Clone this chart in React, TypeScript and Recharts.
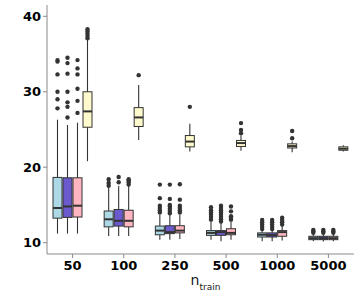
import React from "react";
import { ComposedChart, Bar, XAxis, YAxis } from "recharts";

const categories = ["50", "100", "250", "500", "1000", "5000"];
const yTicks = [10, 20, 30, 40];

// per category: [lower whisker, Q1, median, Q3, upper whisker]
const blueStats = [
  [11.2, 13.25, 14.6, 18.65, 26.3],
  [10.9, 12.1, 13.1, 14.2, 17.25],
  [10.4, 11.05, 11.6, 12.2, 13.7],
  [10.4, 10.97, 11.3, 11.6, 12.8],
  [10.2, 10.75, 11.05, 11.3, 11.6],
  [10.2, 10.4, 10.6, 10.85, 11.1],
];
const blueOutliers = [
  [27.8, 29.0, 30.0, 32.3, 34.0, 34.2],
  [17.55, 17.9, 18.4],
  [14.0, 14.3, 14.6, 14.9, 15.9, 17.7],
  [13.05, 13.4, 13.7, 14.0, 14.3, 14.7],
  [11.8, 12.1, 12.4, 12.7, 13.0],
  [11.3, 11.5, 11.7],
];

const purpleStats = [
  [11.2, 13.35, 14.8, 18.6, 25.6],
  [10.9, 12.2, 12.9, 14.4, 17.5],
  [10.4, 11.2, 11.4, 12.25, 13.7],
  [10.2, 10.97, 11.4, 11.6, 12.6],
  [10.2, 10.75, 11.0, 11.3, 11.6],
  [10.15, 10.4, 10.6, 10.85, 11.1],
];
const purpleOutliers = [
  [26.6, 28.0, 28.6, 30.0, 32.4, 33.8, 34.5],
  [18.0, 18.7],
  [13.9, 14.2, 14.5, 14.8, 15.0, 15.8, 17.7],
  [12.8, 13.1, 13.4, 13.7, 14.0, 14.3, 14.6, 14.9],
  [11.8, 12.1, 12.4, 12.7, 13.0],
  [11.3, 11.5, 11.7],
];

const pinkStats = [
  [11.2, 13.4, 14.9, 18.6, 25.9],
  [10.9, 12.1, 12.9, 14.3, 17.5],
  [10.5, 11.3, 11.6, 12.25, 13.7],
  [10.4, 11.05, 11.3, 11.85, 12.8],
  [10.3, 10.85, 11.4, 11.6, 12.2],
  [10.2, 10.4, 10.6, 10.85, 11.1],
];
const pinkOutliers = [
  [27.2, 28.8, 30.4, 32.3, 33.1, 34.2],
  [17.7, 18.0, 18.25, 18.4],
  [14.0, 14.3, 14.6, 14.9, 15.7, 17.75],
  [13.05, 13.3, 13.5, 14.15, 14.8],
  [12.4, 12.7, 13.0, 13.3],
  [11.3, 11.5, 11.7],
];

const yellowStats = [
  [20.8, 25.3, 27.4, 30.0, 36.9],
  [23.6, 25.4, 26.6, 27.9, 30.9],
  [22.1, 22.7, 23.4, 24.2, 25.75],
  [22.2, 22.75, 23.2, 23.55, 24.2],
  [22.0, 22.55, 22.8, 23.1, 23.4],
  [22.1, 22.25, 22.45, 22.7, 22.9],
];
const yellowOutliers = [
  [37.1, 37.4, 37.7, 38.0, 38.3],
  [32.2],
  [28.0],
  [24.5, 24.95, 25.85],
  [23.85, 24.8],
  [],
];

const series = [
  { key: "s1", fill: "#add8e6", stats: blueStats, outliers: blueOutliers },
  { key: "s2", fill: "#6a5acd", stats: purpleStats, outliers: purpleOutliers },
  { key: "s3", fill: "#ffb6c1", stats: pinkStats, outliers: pinkOutliers },
  { key: "s4", fill: "#fffacd", stats: yellowStats, outliers: yellowOutliers },
];

const data = categories.map((n, i) => {
  const row: any = { n, i };
  series.forEach((s) => {
    row[s.key] = [s.stats[i][0], s.stats[i][4]];
  });
  return row;
});

const INK = "#333333";
const AXIS = "#8a8a8a";
const FONT = "DejaVu Sans";

// draws one box: the bar spans the whiskers, the rest is placed along that span
function boxShape(s: (typeof series)[number]) {
  return (props: any) => {
    const { x, y, width, height, payload } = props;
    const [lo, q1, med, q3, hi] = s.stats[payload.i];
    const top = Math.min(y, y + height);
    const k = Math.abs(height) / (hi - lo);
    const py = (v: number) => top + (hi - v) * k;
    const cx = x + width / 2;
    return (
      <g>
        <line x1={cx} x2={cx} y1={py(hi)} y2={py(q3)} stroke={INK} strokeWidth={1.1} />
        <line x1={cx} x2={cx} y1={py(q1)} y2={py(lo)} stroke={INK} strokeWidth={1.1} />
        <rect x={x} y={py(q3)} width={width} height={py(q1) - py(q3)} fill={s.fill} stroke={INK} strokeWidth={1} />
        <line x1={x} x2={x + width} y1={py(med)} y2={py(med)} stroke={INK} strokeWidth={2} />
        {s.outliers[payload.i].map((v, j) => (
          <circle key={j} cx={cx} cy={py(v)} r={2.2} fill={INK} />
        ))}
      </g>
    );
  };
}

function AxisTitle(props: any) {
  const vb = props.viewBox;
  return (
    <text x={vb.x + vb.width / 2 + 5} y={vb.y + 31} textAnchor="middle" fill="#1a1a1a" fontFamily={FONT}>
      <tspan fontSize={14}>n</tspan>
      <tspan fontSize={9} dy={5}>train</tspan>
    </text>
  );
}

export default function App() {
  const tickStyle = { fill: "#000", fontSize: 13, fontWeight: 700, fontFamily: FONT };
  return (
    <div style={{ position: "absolute", left: 0, top: 0, background: "#fff" }}>
      <ComposedChart
        width={360}
        height={300}
        data={data}
        margin={{ top: 5, right: 6, bottom: 0, left: 0 }}
        barSize={9}
        barGap={1}
      >
        <XAxis
          dataKey="n"
          height={46}
          tick={tickStyle}
          tickSize={4}
          tickMargin={3}
          stroke={AXIS}
          label={{ content: AxisTitle }}
        />
        <XAxis xAxisId="top" dataKey="n" orientation="top" height={0} tick={false} tickLine={false} stroke={AXIS} />
        <YAxis
          type="number"
          domain={[8.5, 41.5]}
          ticks={yTicks}
          allowDataOverflow
          width={47}
          tick={tickStyle}
          tickSize={4}
          stroke={AXIS}
        />
        <YAxis
          yAxisId="right"
          orientation="right"
          type="number"
          domain={[8.5, 41.5]}
          width={0}
          tick={false}
          tickLine={false}
          stroke={AXIS}
        />
        {series.map((s) => (
          <Bar key={s.key} dataKey={s.key} shape={boxShape(s)} isAnimationActive={false} />
        ))}
      </ComposedChart>
    </div>
  );
}
